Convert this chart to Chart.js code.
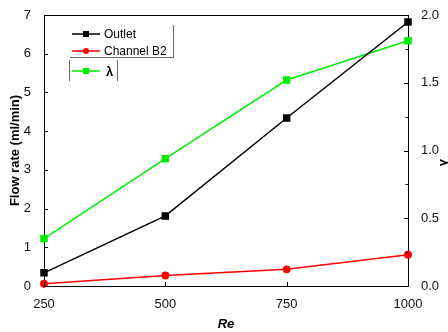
<!DOCTYPE html>
<html>
<head>
<meta charset="utf-8">
<script src="https://cdn.jsdelivr.net/npm/chart.js@4.4.0/dist/chart.umd.min.js"></script>
<style>
  html, body { margin: 0; padding: 0; background: #fff; }
  #wrap { width: 448px; height: 332px; position: relative; }
</style>
</head>
<body>
<div id="wrap"><canvas id="c"></canvas></div>
<script>
  var reValues = [250, 500, 750, 1000];
  var outletFlow = [0.34, 1.81, 4.34, 6.82];
  var channelB2Flow = [0.06, 0.27, 0.43, 0.81];
  var lambdaValues = [0.35, 0.94, 1.52, 1.81];
  var seriesNames = ["Outlet", "Channel B2", "\u03bb"];
  var rightTitle = "\u03bb";

  var FONT = "'Liberation Sans', Arial, sans-serif";

  function pts(ys) {
    return reValues.map(function (x, i) { return { x: x, y: ys[i] }; });
  }

  // inward ticks, top frame line, right title and the Origin style legend
  var decor = {
    id: "decor",
    afterDraw: function (chart) {
      var ctx = chart.ctx;
      var a = chart.chartArea;
      var sx = chart.scales.x, sy = chart.scales.y, sy2 = chart.scales.y2;
      ctx.save();
      ctx.strokeStyle = "#000";
      ctx.lineWidth = 1;
      ctx.beginPath();
      ctx.moveTo(a.left, a.top + 0.5);
      ctx.lineTo(a.right, a.top + 0.5);
      var v, p;
      for (v = 0; v <= 7; v += 1) {
        p = Math.round(sy.getPixelForValue(v)) + 0.5;
        ctx.moveTo(a.left, p); ctx.lineTo(a.left + 4, p);
      }
      for (v = 0; v <= 2.001; v += 0.25) {
        p = Math.round(sy2.getPixelForValue(v)) + 0.5;
        var len = (Math.round(v * 4) % 2 === 0) ? 4 : 2.5;
        ctx.moveTo(a.right, p); ctx.lineTo(a.right - len, p);
      }
      for (v = 250; v <= 1000; v += 250) {
        p = Math.round(sx.getPixelForValue(v)) + 0.5;
        ctx.moveTo(p, a.bottom); ctx.lineTo(p, a.bottom - 4);
      }
      ctx.stroke();

      // right axis title
      ctx.save();
      ctx.translate(444, (a.top + a.bottom) / 2 + 12);
      ctx.rotate(Math.PI / 2);
      ctx.font = "bold 13px " + FONT;
      ctx.fillStyle = "#000";
      ctx.textAlign = "center";
      ctx.textBaseline = "middle";
      ctx.fillText(rightTitle, 0, 0);
      ctx.restore();

      // legend
      var ds = chart.data.datasets;
      var rows = [
        { y: 34, d: ds[0], tx: 104 },
        { y: 51, d: ds[1], tx: 104 },
        { y: 71, d: ds[2], tx: 106 }
      ];
      ctx.font = "12px " + FONT;
      ctx.textBaseline = "middle";
      rows.forEach(function (r) {
        ctx.strokeStyle = r.d.borderColor;
        ctx.lineWidth = 1.5;
        ctx.beginPath();
        ctx.moveTo(72, r.y); ctx.lineTo(100, r.y);
        ctx.stroke();
        ctx.fillStyle = r.d.borderColor;
        ctx.beginPath();
        if (r.d.pointStyle === "circle") {
          ctx.arc(86, r.y, 3, 0, Math.PI * 2);
        } else {
          ctx.rect(83, r.y - 3, 6, 6);
        }
        ctx.fill();
        ctx.fillStyle = "#000";
        if (r.d === ds[2]) ctx.font = "bold 13px " + FONT;
        ctx.fillText(r.d.label, r.tx, r.y + 1);
      });
      ctx.strokeStyle = "#666";
      ctx.lineWidth = 1;
      ctx.beginPath();
      ctx.moveTo(173.5, 25); ctx.lineTo(173.5, 57.5);
      ctx.lineTo(70, 57.5);
      ctx.moveTo(69.5, 60); ctx.lineTo(69.5, 81);
      ctx.moveTo(117.5, 60); ctx.lineTo(117.5, 81);
      ctx.stroke();
      ctx.restore();
    }
  };

  new Chart(document.getElementById("c"), {
    type: "line",
    data: {
      datasets: [
        { label: seriesNames[0], data: pts(outletFlow), yAxisID: "y", borderColor: "#000000", backgroundColor: "#000000", pointStyle: "rect", pointRadius: 4.2, borderWidth: 1.5, clip: false },
        { label: seriesNames[1], data: pts(channelB2Flow), yAxisID: "y", borderColor: "#ff0000", backgroundColor: "#ff0000", pointStyle: "circle", pointRadius: 3.2, borderWidth: 1.5, clip: false },
        { label: seriesNames[2], data: pts(lambdaValues), yAxisID: "y2", borderColor: "#00ee00", backgroundColor: "#00ee00", pointStyle: "rect", pointRadius: 4.2, borderWidth: 1.5, clip: false }
      ]
    },
    options: {
      responsive: true,
      maintainAspectRatio: false,
      animation: false,
      layout: { padding: { top: 15, right: 0, left: 0, bottom: 0 } },
      plugins: { legend: { display: false }, tooltip: { enabled: false } },
      elements: { line: { tension: 0 } },
      scales: {
        x: {
          type: "linear", min: 250, max: 1000,
          afterFit: function (s) { s.height = 46; },
          grid: { display: false },
          border: { display: true, color: "#000", width: 1 },
          ticks: { stepSize: 250, padding: 3, color: "#111", font: { family: FONT, size: 13 }, maxRotation: 0,
            callback: function (v) { return String(v); } },
          title: { display: true, text: "Re", color: "#000", padding: { top: 4, bottom: 0 }, font: { family: FONT, size: 13, weight: "bold", style: "italic" } }
        },
        y: {
          position: "left", min: 0, max: 7,
          afterFit: function (s) { s.width = 44; },
          grid: { display: false },
          border: { display: true, color: "#000", width: 1 },
          ticks: { stepSize: 1, padding: 5, color: "#111", font: { family: FONT, size: 13 } },
          title: { display: true, text: "Flow rate (ml/min)", color: "#000", padding: { top: 8, bottom: 0 }, font: { family: FONT, size: 13, weight: "bold" } }
        },
        y2: {
          position: "right", min: 0, max: 2,
          afterFit: function (s) { s.width = 40; },
          grid: { display: false, drawOnChartArea: false },
          border: { display: true, color: "#000", width: 1 },
          ticks: { stepSize: 0.5, padding: 5, color: "#111", font: { family: FONT, size: 13 },
            callback: function (v) { return Number(v).toFixed(1); } },
          title: { display: false }
        }
      }
    },
    plugins: [decor]
  });
</script>
</body>
</html>
